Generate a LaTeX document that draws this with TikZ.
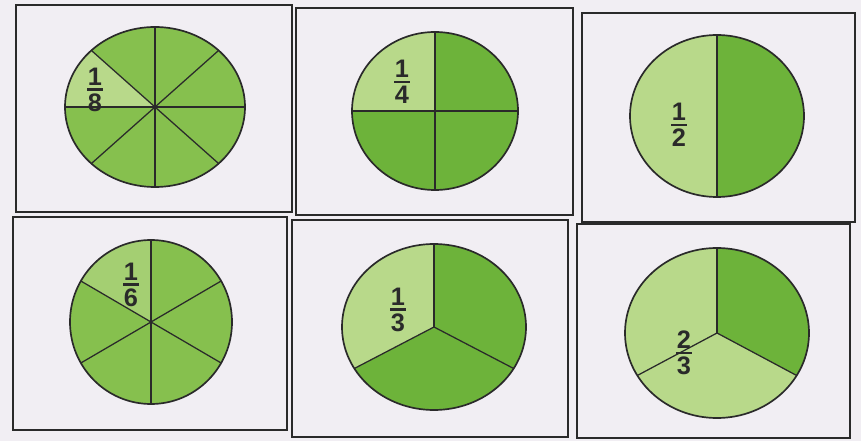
\documentclass[tikz,border=0pt]{standalone}
\usepackage{fontspec}
\setmainfont{Liberation Sans}
\definecolor{page}{HTML}{F1EEF3}
\definecolor{leafdark}{HTML}{6DB33A}
\definecolor{leafmid}{HTML}{86C04E}
\definecolor{leaflight}{HTML}{B8D98A}
\definecolor{ink}{HTML}{2A2A2A}
\tikzset{
  panel/.style={draw=ink,line width=1.3pt},
  rim/.style={draw=ink,line width=1.2pt},
  spoke/.style={ink,line width=0.9pt},
  fraclabel/.style={font=\bfseries\fontsize{18}{18}\selectfont,text=ink,inner sep=0pt}
}
% one slice of a pie, printed a little off the outline
\newcommand{\Slice}[6]{%
  \fill[#6,shift={(4,3)}] (#1) -- ++(#4:#2 and #3)
    arc[start angle=#4,end angle=#5,x radius=#2,y radius=#3] -- cycle;}
% stacked fraction with a heavy bar
\newcommand{\Part}[2]{\vbox{\offinterlineskip\halign{\hfil##\hfil\cr
  #1\cr\noalign{\kern2pt}\rule{0.6em}{1.8pt}\cr\noalign{\kern2pt}#2\cr}}}

\begin{document}
\begin{tikzpicture}[x=0.025cm,y=0.025cm]
  \fill[page] (0,0) rectangle (861,441);
  \useasboundingbox (0,0) rectangle (861,441);

  % panels
  \draw[panel] (16,229) rectangle (292,436);
  \draw[panel] (296,226) rectangle (573,433);
  \draw[panel] (582,219) rectangle (855,428);
  \draw[panel] (13,11) rectangle (287,224);
  \draw[panel] (292,4) rectangle (568,221);
  \draw[panel] (577,3) rectangle (850,217);

  \coordinate (c1) at (155,334);
  \coordinate (c2) at (435,330);
  \coordinate (c3) at (717,325);
  \coordinate (c4) at (151,119);
  \coordinate (c5) at (434,114);
  \coordinate (c6) at (717,108);

  % eighths
  \Slice{c1}{90}{80}{180}{495}{leafmid}
  \Slice{c1}{90}{80}{135}{180}{leaflight}
  \draw[rim] (c1) ellipse[x radius=90,y radius=80];
  \foreach \a in {0,45,...,315}
    \draw[spoke] (c1) -- ++(\a:90 and 80);
  \node[fraclabel] (eighth) at (95,351) {\Part{1}{8}};

  % quarters
  \Slice{c2}{83}{79}{180}{450}{leafdark}
  \Slice{c2}{83}{79}{90}{180}{leaflight}
  \draw[rim] (c2) ellipse[x radius=83,y radius=79];
  \foreach \a in {0,90,180,270}
    \draw[spoke] (c2) -- ++(\a:83 and 79);
  \node[fraclabel] (quarter) at (402,359) {\Part{1}{4}};

  % halves
  \Slice{c3}{87}{81}{270}{450}{leafdark}
  \Slice{c3}{87}{81}{90}{270}{leaflight}
  \draw[rim] (c3) ellipse[x radius=87,y radius=81];
  \draw[spoke] (c3) ++(90:87 and 81) -- ++(0,-162);
  \node[fraclabel] (half) at (679,316) {\Part{1}{2}};

  % sixths
  \Slice{c4}{81}{82}{150}{450}{leafmid}
  \Slice{c4}{81}{82}{90}{150}{leaflight!60!leafmid}
  \draw[rim] (c4) ellipse[x radius=81,y radius=82];
  \foreach \a in {30,90,...,330}
    \draw[spoke] (c4) -- ++(\a:81 and 82);
  \node[fraclabel] (sixth) at (131,156) {\Part{1}{6}};

  % thirds
  \Slice{c5}{92}{83}{210}{450}{leafdark}
  \Slice{c5}{92}{83}{90}{210}{leaflight}
  \draw[rim] (c5) ellipse[x radius=92,y radius=83];
  \foreach \a in {90,210,330}
    \draw[spoke] (c5) -- ++(\a:92 and 83);
  \node[fraclabel] (third) at (398,131) {\Part{1}{3}};

  % two thirds
  \Slice{c6}{92}{85}{90}{330}{leaflight}
  \Slice{c6}{92}{85}{-30}{90}{leafdark}
  \draw[rim] (c6) ellipse[x radius=92,y radius=85];
  \foreach \a in {90,210,330}
    \draw[spoke] (c6) -- ++(\a:92 and 85);
  \node[fraclabel] (twothirds) at (684,88) {\Part{2}{3}};
\end{tikzpicture}
\end{document}
